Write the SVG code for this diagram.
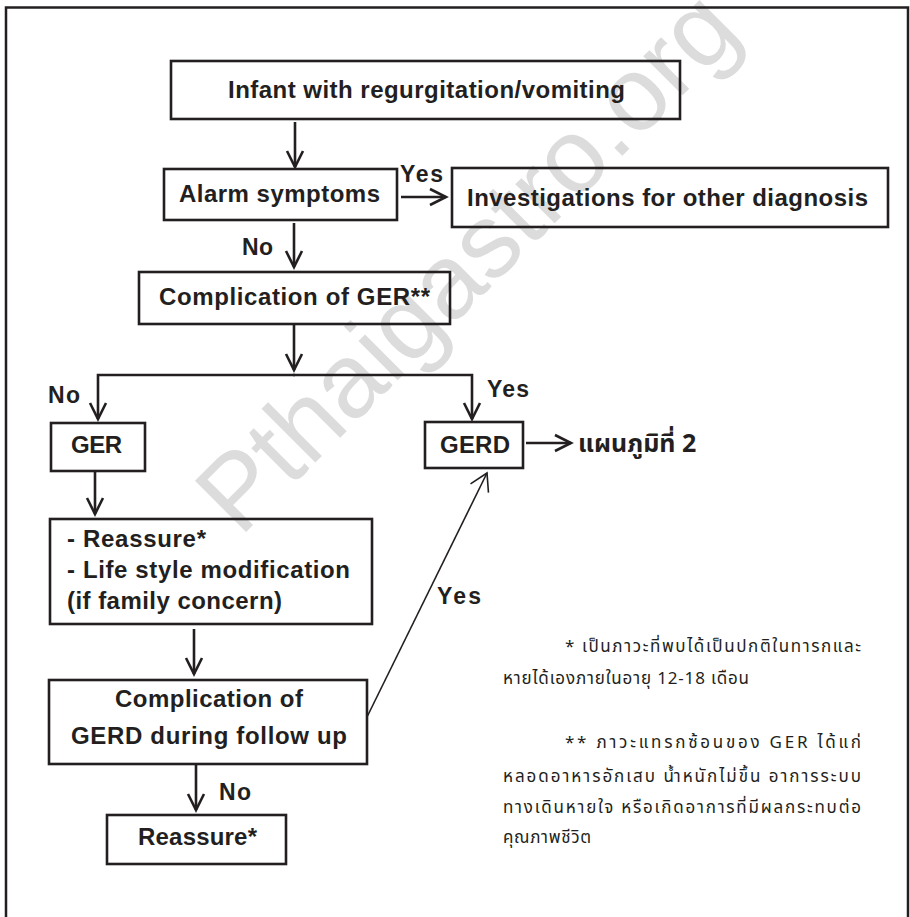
<svg xmlns="http://www.w3.org/2000/svg" width="910" height="917" viewBox="0 0 910 917">
<style>
.bx{fill:none;stroke:#231f20;stroke-width:2.6}
.t{font-family:"Liberation Sans",Arial,sans-serif;font-weight:bold;font-size:24px;fill:#231f20}
.lb{font-family:"Liberation Sans",Arial,sans-serif;font-weight:bold;font-size:23px;fill:#231f20}
.th{font-family:"Noto Sans Thai","Loma","Garuda","Tlwg Typo","Liberation Sans",sans-serif;font-weight:bold;font-size:25px;fill:#231f20}
.fn{font-family:"Noto Sans Thai","Loma","Garuda","Liberation Sans",sans-serif;font-size:17px;fill:#231f20}
.c{fill:none;stroke:#231f20;stroke-width:2.6}
.ct{fill:none;stroke:#231f20;stroke-width:1.6}
.wm{font-family:"Liberation Sans",Arial,sans-serif;font-size:105px;fill:#dcdcdc}
</style>
<defs>
<marker id="ah" markerUnits="userSpaceOnUse" markerWidth="30" markerHeight="30" viewBox="-22 -15 30 30" refX="0" refY="0" orient="auto">
<path d="M-16,-8 L0,0 L-16,8" fill="none" stroke="#231f20" stroke-width="2.6"/>
</marker>
<marker id="aht" markerUnits="userSpaceOnUse" markerWidth="30" markerHeight="30" viewBox="-22 -15 30 30" refX="0" refY="0" orient="auto">
<path d="M-17,-10 L0,0 L-17,10" fill="none" stroke="#231f20" stroke-width="1.6"/>
</marker>
</defs>
<rect width="910" height="917" fill="#ffffff"/>
<text class="wm" x="240" y="538" transform="rotate(-45 240 538)">Pthaigastro.org</text>
<path d="M6,930 V7.5 H908 V930" fill="none" stroke="#231f20" stroke-width="2.5"/>
<g id="connectors">
<path class="c" d="M295,122 V167" marker-end="url(#ah)"/>
<path class="c" d="M401,197 H446" marker-end="url(#ah)"/>
<path class="c" d="M294,223 V267" marker-end="url(#ah)"/>
<path class="c" d="M294,324 V370" marker-end="url(#ah)"/>
<path class="c" d="M295,375 H98 V419" marker-end="url(#ah)"/>
<path class="c" d="M293,375 H472 V419" marker-end="url(#ah)"/>
<path class="c" d="M526,443 H571" marker-end="url(#ah)"/>
<path class="c" d="M95,471 V514" marker-end="url(#ah)"/>
<path class="c" d="M194,629 V674" marker-end="url(#ah)"/>
<path class="ct" d="M367,717 L487,473" marker-end="url(#aht)"/>
<path class="c" d="M196,764 V810" marker-end="url(#ah)"/>
<text class="lb" x="400" y="182" textLength="43">Yes</text>
<text class="lb" x="242" y="255" textLength="31">No</text>
<text class="lb" x="48" y="403" textLength="32">No</text>
<text class="lb" x="487" y="397" textLength="42">Yes</text>
<text class="lb" x="437" y="604" textLength="44">Yes</text>
<text class="lb" x="219" y="800" textLength="32">No</text>
</g>
<g id="n1"><rect class="bx" x="171" y="61" width="509" height="58"/><text class="t" x="228" y="98" textLength="397">Infant with regurgitation/vomiting</text></g>
<g id="n2"><rect class="bx" x="164" y="169" width="233" height="51"/><text class="t" x="179" y="202" textLength="201">Alarm symptoms</text></g>
<g id="n3"><rect class="bx" x="452" y="168" width="436" height="59"/><text class="t" x="467" y="206" textLength="401">Investigations for other diagnosis</text></g>
<g id="n4"><rect class="bx" x="139" y="272" width="311" height="52"/><text class="t" x="159" y="305" textLength="271">Complication of GER**</text></g>
<g id="n5"><rect class="bx" x="51" y="423" width="94" height="48"/><text class="t" x="71" y="453" textLength="51">GER</text></g>
<g id="n6"><rect class="bx" x="425" y="422" width="98" height="46"/><text class="t" x="440" y="453" textLength="70">GERD</text></g>
<g id="n7"><text class="th" x="578" y="452">แผนภูมิที่ 2</text></g>
<g id="n8"><rect class="bx" x="50" y="519" width="322" height="105"/>
<text class="t" x="67" y="547" textLength="139">- Reassure*</text>
<text class="t" x="67" y="578" textLength="283">- Life style modification</text>
<text class="t" x="67" y="609" textLength="215">(if family concern)</text></g>
<g id="n9"><rect class="bx" x="49" y="680" width="318" height="84"/>
<text class="t" x="115" y="707" textLength="188">Complication of</text>
<text class="t" x="71" y="744" textLength="276">GERD during follow up</text></g>
<g id="n10"><rect class="bx" x="107" y="815" width="179" height="49"/><text class="t" x="138" y="845" textLength="119">Reassure*</text></g>
<g id="notes">
<text class="fn" x="565" y="652" textLength="296" lengthAdjust="spacing">* เป็นภาวะที่พบได้เป็นปกติในทารกและ</text>
<text class="fn" x="503" y="684" textLength="246" lengthAdjust="spacing">หายได้เองภายในอายุ 12-18 เดือน</text>
<text class="fn" x="565" y="748" textLength="296" lengthAdjust="spacing">** ภาวะแทรกซ้อนของ GER ได้แก่</text>
<text class="fn" x="503" y="782" textLength="358" lengthAdjust="spacing">หลอดอาหารอักเสบ น้ำหนักไม่ขึ้น อาการระบบ</text>
<text class="fn" x="503" y="813" textLength="358" lengthAdjust="spacing">ทางเดินหายใจ หรือเกิดอาการที่มีผลกระทบต่อ</text>
<text class="fn" x="503" y="843" textLength="88" lengthAdjust="spacing">คุณภาพชีวิต</text>
</g>
</svg>
